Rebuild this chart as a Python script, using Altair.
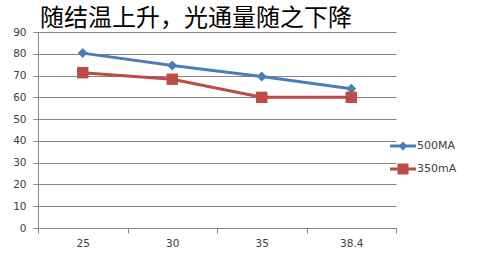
import altair as alt
import pandas as pd

temps = ["25", "30", "35", "38.4"]
series_names = ["500MA", "350mA"]
vals_500 = [80.3, 74.6, 69.6, 63.9]
vals_350 = [71.3, 68.3, 60.0, 60.0]
title_text = "随结温上升，光通量随之下降"
colors = ["#4A7EBB", "#BE4B48"]

rows = []
for t, v in zip(temps, vals_500):
    rows.append({"temp": t, "value": v, "series": series_names[0]})
for t, v in zip(temps, vals_350):
    rows.append({"temp": t, "value": v, "series": series_names[1]})
df = pd.DataFrame(rows)
legdf = pd.DataFrame({"temp": [temps[0], temps[0]], "value": [None, None], "series": series_names})

GRAY = "#868686"
LBL = "#404040"
FONT = "DejaVu Sans"

xenc = alt.X("temp:N", sort=temps,
             scale=alt.Scale(type="band", paddingInner=0, paddingOuter=0),
             axis=alt.Axis(title=None, labelAngle=0, tickBand="extent", domainColor=GRAY,
                           tickColor=GRAY, tickSize=5, labelFontSize=10.5, labelColor=LBL,
                           labelFont=FONT, grid=False, labelPadding=5))
yenc = alt.Y("value:Q", scale=alt.Scale(domain=[0, 90], nice=False),
             axis=alt.Axis(title=None, values=list(range(0, 100, 10)), grid=True,
                           gridColor=GRAY, domainColor=GRAY, tickColor=GRAY, tickSize=5,
                           labelFontSize=10.5, labelColor=LBL, labelFont=FONT, labelPadding=7,
                           labelOverlap=False))

base = alt.Chart(df).encode(x=xenc, y=yenc)
layers = []
shapes = ["diamond", "square"]
sizes = [100, 130]
for name, col in zip(series_names, colors):
    sub = base.transform_filter(alt.datum.series == name)
    layers.append(sub.mark_line(strokeWidth=3, color=col))
for name, col, shp, sz in zip(series_names, colors, shapes, sizes):
    sub = base.transform_filter(alt.datum.series == name)
    layers.append(sub.mark_point(shape=shp, filled=True, size=sz, opacity=1, color=col))

path_d = "M-1.3,-0.14H1.3V0.14H-1.3Z M0,-0.45L0.45,0L0,0.45L-0.45,0Z"
path_s = "M-1.3,-0.14H1.3V0.14H-1.3Z M-0.55,-0.55H0.55V0.55H-0.55Z"
leg = alt.Legend(title=None, orient="none", legendX=355, legendY=104, symbolSize=400,
                 labelFontSize=11, labelColor=LBL, labelFont=FONT, labelOffset=4,
                 rowPadding=8, symbolStrokeWidth=0, padding=0)
legend_layer = alt.Chart(legdf).mark_point(filled=True, opacity=1).encode(
    x=xenc,
    y=yenc,
    color=alt.Color("series:N", scale=alt.Scale(domain=series_names, range=colors), legend=leg),
    shape=alt.Shape("series:N", scale=alt.Scale(domain=series_names, range=[path_d, path_s]),
                    legend=leg),
)
layers.append(legend_layer)

chart = alt.layer(*layers).properties(
    width=358, height=196,
    title=alt.TitleParams(title_text, anchor="start", fontSize=24, font="Noto Sans CJK SC",
                          fontWeight="normal", color="#000000", offset=-4, dx=2, frame="group"),
    autosize=alt.AutoSizeParams(type="none"),
    padding={"left": 38, "top": 32, "right": 82, "bottom": 26},
    background="white",
).configure_view(stroke=None)

chart.save("out.html", embed_options={"renderer": "svg", "actions": False})
